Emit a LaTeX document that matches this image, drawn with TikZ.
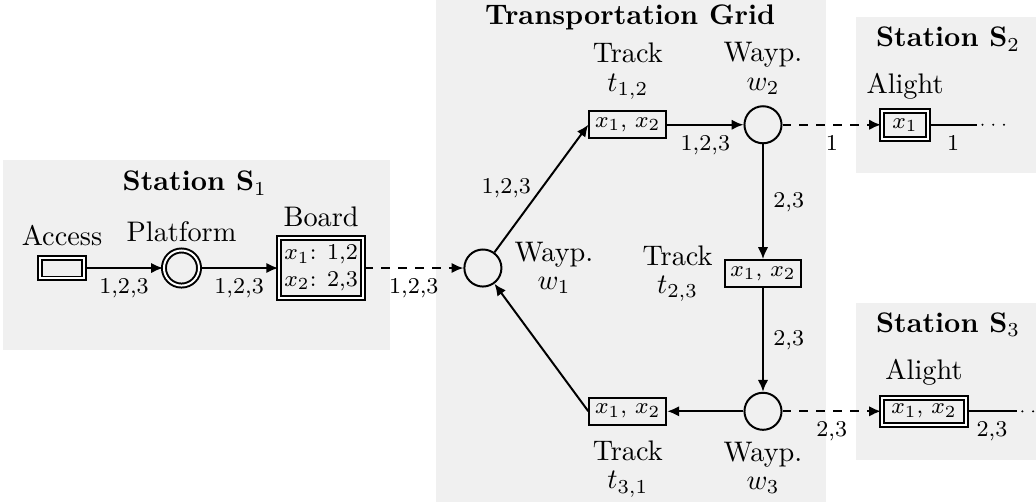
\documentclass[tikz,border=0pt]{standalone}
\usetikzlibrary{positioning,arrows.meta}
\begin{document}
\begin{tikzpicture}[>={Latex[length=4.2pt,width=3.7pt]}, line width=0.7pt,
  box/.style={draw, rectangle, font=\footnotesize, inner sep=1pt, minimum width=27.2pt, minimum height=9.6pt},
  ring/.style={draw, circle, inner sep=0pt, minimum size=13.1pt},
  dbl/.style={double, double distance=0.7pt},
  region/.style={fill=gray!12},
  title/.style={font=\bfseries},
  nlab/.style={align=center, inner sep=1pt},
  elab/.style={font=\footnotesize},
  dots/.style={line width=0.8pt, line cap=round, dash pattern=on 0pt off 3.8pt, dash phase=1.9pt}]
\useasboundingbox (0,-2.907) rectangle (12.872,3.33);
% shaded areas
\fill[region] (0.037,-1.019) rectangle (4.846,1.342);
\fill[region] (5.417,-2.907) rectangle (10.263,3.33);
\fill[region] (10.636,1.18) rectangle (12.872,3.119);
\fill[region] (10.636,-2.386) rectangle (12.872,-0.435);
\node[title] (s1t) at (2.42,1.056) {Station $\mathbf{S}_1$};
\node[title] (gridt) at (7.83,3.12) {Transportation Grid};
\node[title] (s2t) at (11.78,2.845) {Station $\mathbf{S}_2$};
\node[title] (s3t) at (11.78,-0.708) {Station $\mathbf{S}_3$};
% station 1
\node[box, dbl, minimum width=15.6pt, minimum height=7.4pt] (access) at (0.77,0) {};
\node[ring, dbl, minimum size=12.4pt] (platform) at (2.255,0) {};
\node[box, dbl, align=center, minimum width=29.7pt, minimum height=20.9pt] (board) at (3.99,0) {$x_1$: 1,2\\$x_2$: 2,3};
\node[nlab, above=2.5pt of access] (accessl) {Access};
\node[nlab, above=1.5pt of platform] (platforml) {Platform};
\node[nlab, above=2.5pt of board] (boardl) {Board};
% grid
\node[ring] (w1) at (6,0) {};
\node[box] (t12) at (7.8,1.78) {$x_1$, $x_2$};
\node[ring] (w2) at (9.48,1.78) {};
\node[box] (t23) at (9.48,-0.07) {$x_1$, $x_2$};
\node[ring] (w3) at (9.48,-1.78) {};
\node[box] (t31) at (7.8,-1.78) {$x_1$, $x_2$};
\node[nlab, right=3pt of w1] (w1l) {Wayp.\\[-2pt]$w_1$};
\node[nlab, above=2.5pt of t12] (t12l) {Track\\[-2pt]$t_{1,2}$};
\node[nlab, above=2.5pt of w2] (w2l) {Wayp.\\[-2pt]$w_2$};
\node[nlab, left=2.5pt of t23] (t23l) {Track\\[-2pt]$t_{2,3}$};
\node[nlab, below=4pt of t31] (t31l) {Track\\[-2pt]$t_{3,1}$};
\node[nlab, below=2.5pt of w3] (w3l) {Wayp.\\[-2pt]$w_3$};
% stations 2 and 3
\node[box, dbl, minimum width=16.3pt, minimum height=9.9pt] (alight2) at (11.245,1.78) {$x_1$};
\node[box, dbl, minimum width=29.7pt] (alight3) at (11.48,-1.78) {$x_1$, $x_2$};
\node[nlab, above=2.5pt of alight2] (alight2l) {Alight};
\node[nlab, above=2.5pt of alight3] (alight3l) {Alight};
\coordinate (e2) at (12.14,1.78);
\coordinate (d2) at (12.52,1.78);
\coordinate (e3) at (12.636,-1.78);
\coordinate (d3) at (12.95,-1.78);
% connectors
\draw[->] (access) -- node[elab, below] {1,2,3} (platform);
\draw[->] (platform) -- node[elab, below] {1,2,3} (board);
\draw[->, dashed] (board) -- node[elab, below] {1,2,3} (w1);
\draw[->] (w1) -- node[elab, left] {1,2,3} (t12.west);
\draw[->] (t12) -- node[elab, below] {1,2,3} (w2);
\draw[->] (w2) -- node[elab, right] {2,3} (t23);
\draw[->] (t23) -- node[elab, right] {2,3} (w3);
\draw[->] (w3) -- (t31);
\draw[->] (t31.west) -- (w1);
\draw[->, dashed] (w2) -- node[elab, below] {1} (alight2);
\draw[->, dashed] (w3) -- node[elab, below] {2,3} (alight3);
\draw (alight2) -- node[elab, below] {1} (e2);
\draw[dots] (e2) -- (d2);
\draw (alight3) -- node[elab, below] {2,3} (e3);
\draw[dots] (e3) -- (d3);
\end{tikzpicture}
\end{document}
